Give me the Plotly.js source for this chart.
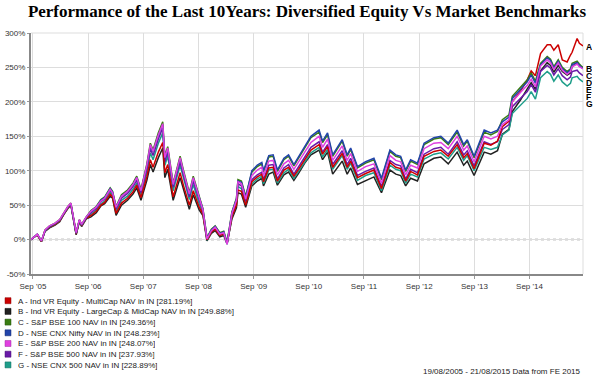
<!DOCTYPE html>
<html>
<head>
<meta charset="utf-8">
<script src="https://cdn.plot.ly/plotly-3.0.1.min.js"></script>
<style>html,body{margin:0;padding:0;background:#fff;}#chart{width:594px;height:379px;}</style>
</head>
<body>
<div id="chart"></div>
<script>
const dates = ['2005-08-19','2005-09-30','2005-10-27','2005-11-20','2005-12-20','2006-01-25','2006-02-25','2006-03-25','2006-04-20','2006-05-10',
'2006-06-14','2006-07-05','2006-07-20','2006-08-20','2006-09-20','2006-10-25','2006-11-25','2006-12-20','2007-01-25','2007-02-10',
'2007-03-05','2007-04-10','2007-05-20','2007-06-25','2007-07-20','2007-08-17','2007-09-25','2007-10-18','2007-11-05','2007-12-10',
'2008-01-08','2008-01-22','2008-02-10','2008-03-17','2008-05-02','2008-05-25','2008-07-02','2008-07-28','2008-09-05','2008-09-30',
'2008-10-27','2008-11-25','2008-12-20','2009-01-20','2009-02-15','2009-03-09','2009-04-10','2009-05-10','2009-05-20','2009-06-12',
'2009-07-10','2009-08-20','2009-09-25','2009-10-25','2009-11-05','2009-12-10','2010-01-08','2010-02-05','2010-03-20','2010-04-20',
'2010-05-25','2010-06-25','2010-08-05','2010-09-15','2010-11-08','2010-12-01','2011-01-03','2011-02-06','2011-04-10','2011-05-13',
'2011-06-05','2011-07-20','2011-09-12','2011-11-06','2011-12-26','2012-02-20','2012-03-30','2012-05-01','2012-06-03','2012-07-06',
'2012-08-20','2012-10-03','2012-12-07','2013-01-22','2013-03-12','2013-05-10','2013-06-22','2013-07-16','2013-08-30','2013-11-05',
'2013-12-19','2014-02-01','2014-03-05','2014-04-18','2014-05-10','2014-07-04','2014-08-17','2014-09-12','2014-10-10','2014-11-13',
'2014-12-27','2015-01-18','2015-02-09','2015-03-10','2015-04-06','2015-05-08','2015-05-30','2015-06-10','2015-07-13','2015-07-28',
'2015-08-21'];

const seriesA = [0,7,-3,13,18,22,27,38,46,51, 8,27,20,31,35,41,50,54,66,62, 38,53,60,69,79,61,91,116,105,127,
141,97,109,62,97,78,50,71,47,37, 0,11,15,6,8,-5,33,50,72,70, 50,84,91,95,84,104,105,85,101,105,
92,102,116,130,138,124,135,105,125,105, 114,90,96,101,74,112,105,103,85,99, 94,121,128,130,121,138,119,125,103,140,
137,143,164,172,200,216,232,245,238,270, 283,283,275,283,261,258,268,272,292,285, 281.19];

const seriesB = [0,7,-3,12,17,21,26,37,45,50, 7,26,19,30,33,39,49,52,63,60, 35,50,57,66,75,57,86,109,98,119,
133,90,102,57,90,72,44,65,43,35, -2,9,13,4,6,-6,30,46,68,66, 47,78,85,89,78,95,98,79,94,98,
86,96,111,123,130,116,127,95,114,95, 104,80,86,91,68,101,95,93,78,89, 85,110,118,120,110,127,108,114,93,127,
124,129,153,160,186,203,219,228,218,245, 257,253,243,253,244,239,242,251,257,252, 249.88];

const seriesC = [0,8,-2,14,20,24,29,40,48,53, 10,29,22,33,42,48,58,62,75,70, 48,65,72,82,92,73,110,140,130,155,
171,121,135,82,121,100,68,92,63,45, 3,15,20,10,12,-4,40,60,87,85, 63,98,106,110,98,120,121,99,116,121,
107,118,133,148,156,141,152,121,143,121, 131,104,111,116,87,128,121,119,99,114, 109,138,146,148,138,156,136,143,119,156,
152,157,174,181,208,222,232,242,230,256, 266,262,251,261,250,244,248,256,259,255, 249.36];

const seriesD = [0,8,-2,13,19,23,28,39,47,52, 9,28,21,32,41,47,57,61,74,69, 47,63,70,80,90,71,107,136,127,151,
167,118,131,79,118,97,65,89,61,44, 2,14,19,9,11,-5,39,59,85,83, 61,100,108,112,100,122,123,101,118,123,
109,120,135,150,159,143,155,123,145,123, 133,106,113,118,89,130,123,121,101,116, 111,140,148,150,140,159,138,145,121,159,
155,159,171,178,205,219,229,239,227,254, 264,260,249,259,248,242,246,254,257,253, 248.23];

const seriesE = [0,8,-2,14,20,24,29,40,48,53, 10,29,22,33,41,47,56,60,73,68, 47,63,70,80,90,71,108,138,128,152,
168,119,133,80,119,98,66,90,60,43, 1,13,18,8,10,-7,38,57,84,81, 59,93,101,105,93,114,115,94,110,115,
102,112,127,141,150,134,146,115,136,115, 125,99,106,110,82,122,115,113,94,108, 104,132,140,141,132,150,130,136,113,150,
146,150,167,174,200,214,224,233,222,252, 261,257,247,257,246,240,244,251,255,251, 248.07];

const seriesF = [0,7,-2,13,19,23,28,39,47,52, 9,28,21,32,39,45,55,59,72,67, 44,60,67,77,86,68,103,132,122,146,
162,113,127,76,113,93,62,85,56,41, 0,12,17,7,9,-6,36,55,81,78, 56,87,94,98,87,108,109,88,104,109,
95,106,120,134,142,127,138,109,129,109, 118,93,99,104,77,115,109,107,88,102, 97,124,132,134,124,142,123,129,107,142,
138,142,160,167,193,206,215,225,214,244, 253,249,239,248,238,232,236,244,246,242, 237.93];

const seriesG = [0,7,-3,13,18,22,27,38,46,51, 8,27,20,31,37,43,52,56,69,64, 41,57,63,73,82,64,97,126,116,140,
155,108,121,71,108,88,58,80,52,39, -1,11,16,6,8,-7,34,52,77,74, 52,81,88,92,81,101,102,82,97,102,
89,99,113,126,134,120,131,102,122,102, 111,86,93,97,71,108,102,100,82,95, 91,117,124,126,117,134,115,122,100,134,
131,134,152,159,183,196,205,215,204,235, 244,240,230,239,229,223,227,235,237,233, 228.89];

const seriesLetters = ['A','B','C','D','E','F','G'];
const legendNames = [
  'A - Ind VR Equity - MultiCap NAV in IN [281.19%]',
  'B - Ind VR Equity - LargeCap & MidCap NAV in IN [249.88%]',
  'C - S&P BSE 100 NAV in IN [249.36%]',
  'D - NSE CNX Nifty NAV in IN [248.23%]',
  'E - S&P BSE 200 NAV in IN [248.07%]',
  'F - S&P BSE 500 NAV in IN [237.93%]',
  'G - NSE CNX 500 NAV in IN [228.89%]'
];
const endLabelY = [281, 249, 238, 228, 218, 208, 197];
const yTickVals = [-50, 0, 50, 100, 150, 200, 250, 300];
const yTickText = ['-50%', '0%', '50%', '100%', '150%', '200%', '250%', '300%'];
const titleText = 'Performance of the Last 10Years: Diversified Equity Vs Market Benchmarks';
const footText = '19/08/2005 - 21/08/2015 Data from FE 2015';

const colors = ['#cc0000', '#222222', '#3a7d12', '#2244aa', '#e040e0', '#6a1aa8', '#1f9e8a'];
const borderColors = ['#8a0000', '#000000', '#24520a', '#14286e', '#a02aa0', '#440c70', '#146e60'];
const allSeries = [seriesA, seriesB, seriesC, seriesD, seriesE, seriesF, seriesG];
const drawOrder = [1, 6, 5, 0, 2, 3, 4];

const W = 594, H = 379, L = 31, R = 11, T = 33, Bm = 105;
const pw = W - L - R, ph = H - T - Bm;
const pxX = x => (x - L) / pw;
const pxY = y => (H - Bm - y) / ph;

const traces = drawOrder.map(i => ({
  type: 'scatter', mode: 'lines', x: dates, y: allSeries[i],
  name: legendNames[i], line: {color: colors[i], width: 1.5},
  showlegend: false, hoverinfo: 'skip'
}));

const annotations = [];
const shapes = [];
seriesLetters.forEach((s, i) => {
  annotations.push({xref: 'paper', yref: 'y', x: 1, y: endLabelY[i], xanchor: 'left', yanchor: 'middle',
    xshift: 1, height: 7, text: '<b>' + s + '</b>', showarrow: false,
    font: {family: 'Liberation Sans, Arial', size: 8.5, color: '#000'}});
  const rowY = 300.7 + i * 10.7;
  annotations.push({xref: 'paper', yref: 'paper', x: pxX(16), y: pxY(rowY), xanchor: 'left', yanchor: 'middle',
    height: 10, text: legendNames[i].replace(/&/g, '&amp;'), showarrow: false,
    font: {family: 'Liberation Sans, Arial', size: 8, color: '#222'}});
  shapes.push({type: 'rect', xref: 'paper', yref: 'paper', x0: pxX(5), x1: pxX(11), y0: pxY(rowY + 3), y1: pxY(rowY - 3),
    fillcolor: colors[i], line: {color: borderColors[i], width: 0.5}});
});
annotations.push({xref: 'paper', yref: 'paper', x: pxX(583), y: pxY(371), xanchor: 'right', yanchor: 'middle',
  text: footText, showarrow: false, font: {family: 'Liberation Sans, Arial', size: 8, color: '#222'}});

shapes.push({type: 'line', xref: 'paper', yref: 'y', x0: 0, x1: 1, y0: 0, y1: 0,
  line: {color: '#888888', width: 1.5, dash: 'dot'}, layer: 'below'});
shapes.push({type: 'line', xref: 'paper', yref: 'paper', x0: 0, x1: 1, y0: 1, y1: 1,
  line: {color: '#dddddd', width: 1}, layer: 'below'});
shapes.push({type: 'line', xref: 'paper', yref: 'paper', x0: 1, x1: 1, y0: 0, y1: 1,
  line: {color: '#dddddd', width: 1}, layer: 'below'});

const layout = {
  width: W, height: H,
  margin: {l: L, r: R, t: T, b: Bm, pad: 0},
  paper_bgcolor: '#ffffff', plot_bgcolor: '#ffffff',
  showlegend: false,
  title: {text: '<b>' + titleText + '</b>', x: 0.5, xref: 'paper', xanchor: 'center',
    y: 1 - 11 / H, yref: 'container', yanchor: 'middle',
    font: {family: 'Liberation Serif, serif', size: 17, color: '#000'}},
  xaxis: {type: 'date', range: ['2005-08-19', '2015-08-21'], tick0: '2005-09-01', dtick: 'M12',
    tickformat: "%b '%y", showgrid: true, gridcolor: '#dddddd', gridwidth: 1,
    showline: true, linecolor: '#888888', linewidth: 2, ticks: 'outside', ticklen: 3, tickcolor: '#999999',
    tickfont: {family: 'Liberation Sans, Arial', size: 8, color: '#333'}, zeroline: false, fixedrange: true},
  yaxis: {range: [-50, 300], tickvals: yTickVals, ticktext: yTickText, showgrid: true, gridcolor: '#dddddd', gridwidth: 1,
    showline: true, linecolor: '#888888', linewidth: 2, ticks: 'outside', ticklen: 2, tickcolor: '#999999',
    tickfont: {family: 'Liberation Sans, Arial', size: 8, color: '#333'}, zeroline: false, fixedrange: true},
  annotations: annotations,
  shapes: shapes
};

Plotly.newPlot('chart', traces, layout, {staticPlot: true, displayModeBar: false});
</script>
</body>
</html>
